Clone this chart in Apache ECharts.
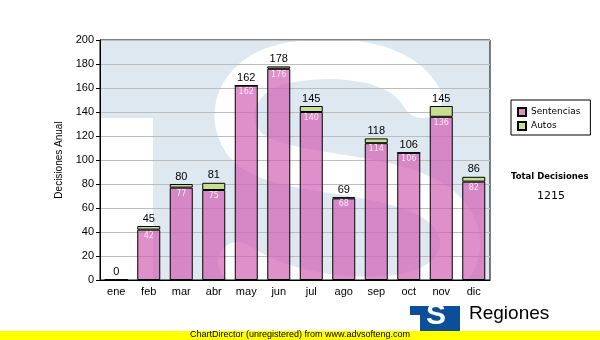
<!DOCTYPE html>
<html><head><meta charset="utf-8">
<script src="https://cdn.jsdelivr.net/npm/echarts@6/dist/echarts.min.js"></script>
<style>html,body{margin:0;padding:0;background:#fff}#c{width:600px;height:340px}</style>
</head><body><div id="c"></div>
<script>
var categories = ['ene','feb','mar','abr','may','jun','jul','ago','sep','oct','nov','dic'];
var sentencias = [0,42,77,75,162,176,140,68,114,106,136,82];
var autos = [0,3,3,6,0,2,5,1,4,0,9,4];
var totals = [0,45,80,81,162,178,145,69,118,106,145,86];
var yTicks = {min:0, max:200, interval:20};
var totalDecisiones = '1215';

var chart = echarts.init(document.getElementById('c'), null, {renderer:'canvas'});
var wm = '#dde8f0';
var sSegs = [
  [422,98, 400,58, 335,55, 292,62],
  [292,62, 240,70, 222,112, 243,142],
  [243,142, 268,178, 380,168, 432,200],
  [432,200, 482,232, 465,292, 385,296],
  [385,296, 325,300, 272,285, 238,262]
];
var graphics = [
  {type:'rect',z:-10,silent:true,shape:{x:100,y:40,width:390,height:240},style:{fill:wm}},
  {type:'rect',z:-9,silent:true,shape:{x:100,y:118,width:53,height:162},style:{fill:'#fff'}}
];
sSegs.forEach(function(s){
  graphics.push({type:'bezierCurve',z:-9,silent:true,
    shape:{x1:s[0],y1:s[1],cpx1:s[2],cpy1:s[3],cpx2:s[4],cpy2:s[5],x2:s[6],y2:s[7]},
    style:{fill:null,stroke:'#fff',lineWidth:40,lineCap:'round'}});
});
graphics = graphics.concat([
  {type:'rect',z:-8,silent:true,shape:{x:490.5,y:30,width:120,height:260},style:{fill:'#fff'}},
  {type:'rect',z:-8,silent:true,shape:{x:95,y:280.5,width:400,height:30},style:{fill:'#fff'}},
  {type:'rect',z:-8,silent:true,shape:{x:200,y:0,width:300,height:39.5},style:{fill:'#fff'}},
  {type:'text',left:511,top:172,style:{text:'Total Decisiones',font:'bold 8.5px "DejaVu Sans"',fill:'#000'}},
  {type:'text',left:537,top:191,style:{text:totalDecisiones,font:'11px "DejaVu Sans"',fill:'#000'}},
  {type:'rect',z:5,shape:{x:410,y:306,width:50,height:26},style:{fill:'#0b4f98'}},
  {type:'rect',z:6,shape:{x:410,y:315,width:10,height:17},style:{fill:'#fff'}},
  {type:'text',z:7,left:426,top:301,style:{text:'S',font:'bold 30px "Liberation Sans"',fill:'#fff'}},
  {type:'text',z:5,left:469,top:304,style:{text:'Regiones',font:'19px "Liberation Sans"',fill:'#000'}},
  {type:'rect',z:10,shape:{x:0,y:331,width:600,height:9},style:{fill:'#ffff00'}},
  {type:'text',z:11,left:190,top:330,style:{text:'ChartDirector (unregistered) from www.advsofteng.com',font:'9px "Liberation Sans"',fill:'#000'}}
]);

chart.setOption({
  animation:false,
  backgroundColor:'#fff',
  grid:{left:100,right:110,top:40,bottom:60,show:true,borderColor:'#000',borderWidth:1,backgroundColor:'transparent'},
  legend:{
    orient:'vertical', left:511, top:100,
    backgroundColor:'#fff', borderColor:'#000', borderWidth:1,
    padding:[7,10,4,6], itemGap:4, itemWidth:8, itemHeight:8, icon:'rect',
    textStyle:{fontFamily:'DejaVu Sans',fontSize:9,color:'#000'},
    data:['Sentencias','Autos']
  },
  xAxis:{
    type:'category', data:categories,
    axisLine:{lineStyle:{color:'#000',width:1}},
    axisTick:{alignWithLabel:true,length:4,lineStyle:{color:'#000'}},
    axisLabel:{fontFamily:'Liberation Sans',fontSize:11,color:'#000',margin:6}
  },
  yAxis:{
    type:'value', min:yTicks.min, max:yTicks.max, interval:yTicks.interval,
    name:'Decisiones Anual', nameLocation:'middle', nameGap:28,
    nameTextStyle:{fontFamily:'Liberation Sans',fontSize:10,color:'#000'},
    axisLine:{show:true,lineStyle:{color:'#000'}},
    axisTick:{show:true,length:4,lineStyle:{color:'#000'}},
    axisLabel:{fontFamily:'Liberation Sans',fontSize:11,color:'#000',margin:6},
    splitLine:{lineStyle:{color:'#bdbdbd',width:1}}
  },
  graphic:graphics,
  series:[
    {name:'Sentencias',type:'bar',stack:'a',data:sentencias,barWidth:23,
     itemStyle:{color:'rgba(210,95,178,0.7)',borderColor:'#000',borderWidth:1},
     label:{show:true,position:'insideTop',distance:2,fontFamily:'DejaVu Sans',fontSize:8,color:'#fbe6f3',
            formatter:function(p){return p.value>0?p.value:'';}}},
    {name:'Autos',type:'bar',stack:'a',data:autos,barWidth:23,
     itemStyle:{color:'#c7e08f',borderColor:'#000',borderWidth:1},
     label:{show:true,position:'top',distance:2,fontFamily:'Liberation Sans',fontSize:11,color:'#000',
            formatter:function(p){return totals[p.dataIndex];}}}
  ]
});
</script></body></html>
